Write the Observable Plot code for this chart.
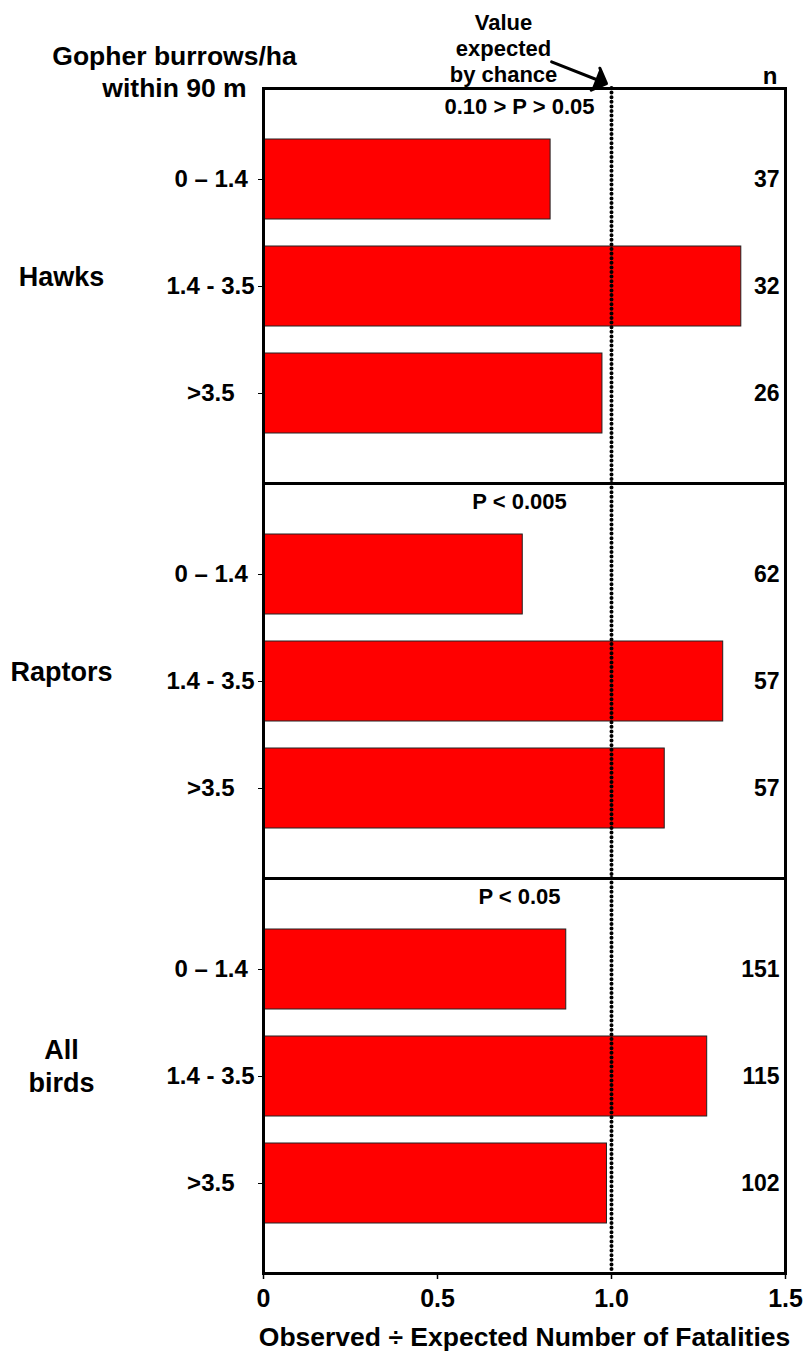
<!DOCTYPE html>
<html>
<head>
<meta charset="utf-8">
<script src="https://cdn.jsdelivr.net/npm/d3@7"></script>
<script src="https://cdn.jsdelivr.net/npm/@observablehq/plot@0.6"></script>
<style>
  body { margin: 0; background: #fff; }
</style>
</head>
<body>
<div id="chart"></div>
<script>
const groups = ["Hawks", "Raptors", "All birds"];
const groupLabels = ["Hawks", "Raptors", "All\nbirds"];
const burrowClasses = ["0 – 1.4", "1.4 - 3.5", ">3.5"];
const hawksRatio = [0.825, 1.373, 0.974];
const raptorsRatio = [0.745, 1.321, 1.153];
const allBirdsRatio = [0.870, 1.275, 0.987];
const hawksN = [37, 32, 26];
const raptorsN = [62, 57, 57];
const allBirdsN = [151, 115, 102];
const pLabels = ["0.10 > P > 0.05", "P < 0.005", "P < 0.05"];
const xTicks = [0, 0.5, 1.0, 1.5];
const xTickLabels = ["0", "0.5", "1.0", "1.5"];
const expectedValue = 1.0;
const yLabelTitle = "Gopher burrows/ha\nwithin 90 m";
const chanceLabel = "Value\nexpected\nby chance";
const nHeader = "n";
const xTitle = "Observed ÷ Expected Number of Fatalities";

const ratiosByGroup = [hawksRatio, raptorsRatio, allBirdsRatio];
const nByGroup = [hawksN, raptorsN, allBirdsN];
const rows = groups.flatMap((g, gi) =>
  burrowClasses.map((c, ci) => ({group: g, cls: c, ratio: ratiosByGroup[gi][ci], n: nByGroup[gi][ci]}))
);

const tickPad = {"0 – 1.4": "\u00a0", "1.4 - 3.5": "", ">3.5": "\u00a0\u00a0\u00a0"};

const chart = Plot.plot({
  width: 809,
  height: 1354,
  marginTop: 88,
  marginBottom: 81,
  marginLeft: 263,
  marginRight: 24,
  style: {
    fontFamily: "'Liberation Sans', Arial, Helvetica, sans-serif",
    fontWeight: "bold",
    color: "black",
    background: "white",
    overflow: "visible"
  },
  x: {domain: [0, 1.5]},
  y: {domain: burrowClasses, paddingInner: 0.256, paddingOuter: 0.465},
  fy: {domain: groups, padding: 0, axis: null},
  marks: [
    Plot.barX(rows, {x: "ratio", y: "cls", fy: "group", fill: "#ff0000", stroke: "#222", strokeWidth: 1}),
    Plot.ruleX([expectedValue], {x: d => d, stroke: "black", strokeWidth: 4, strokeDasharray: "0 4.6", strokeLinecap: "round"}),
    Plot.frame({stroke: "black", strokeWidth: 3}),
    Plot.axisY({
      tickSize: 5, tickPadding: 4, fontSize: 24, label: null,
      tickFormat: d => d + tickPad[d]
    }),
    Plot.axisX(xTicks, {
      tickSize: 6, tickPadding: 10, fontSize: 25, label: null, strokeWidth: 1.5,
      tickFormat: d => xTickLabels[xTicks.indexOf(d)]
    }),
    Plot.text(rows, {y: "cls", fy: "group", text: "n", frameAnchor: "right", textAnchor: "end", dx: -6, fontSize: 23}),
    Plot.text(groups, {fy: d => d, text: (d, i) => pLabels[i], frameAnchor: "top", lineAnchor: "middle", dx: -5, dy: 18, fontSize: 22}),
    Plot.text(groups, {fy: d => d, text: (d, i) => groupLabels[i], frameAnchor: "left", lineAnchor: "middle", dx: -202, dy: -11, textAnchor: "middle", fontSize: 27, lineHeight: 1.22}),
    Plot.text([groups[0]], {fy: d => d, text: () => nHeader, frameAnchor: "top-right", lineAnchor: "middle", dx: -8, dy: -12, textAnchor: "end", fontSize: 24}),
    Plot.text([groups[0]], {fy: d => d, text: () => yLabelTitle, frameAnchor: "top-left", lineAnchor: "middle", dx: -89, dy: -18, textAnchor: "middle", fontSize: 26.5, lineHeight: 1.2}),
    Plot.text([groups[0]], {fy: d => d, text: () => chanceLabel, frameAnchor: "top", lineAnchor: "middle", dx: -21, dy: -40.5, textAnchor: "middle", fontSize: 22, lineHeight: 1.18}),
    Plot.vector([groups[0]], {fy: d => d, x: () => expectedValue, frameAnchor: "top", dx: -5, dy: -5, anchor: "end", rotate: 111.5, length: 59, stroke: "black", fill: "black", strokeWidth: 3}),
    Plot.text([groups[2]], {fy: d => d, text: () => xTitle, frameAnchor: "bottom", lineAnchor: "middle", dy: 64, fontSize: 26.5})
  ]
});
document.getElementById("chart").appendChild(chart);
</script>
</body>
</html>
